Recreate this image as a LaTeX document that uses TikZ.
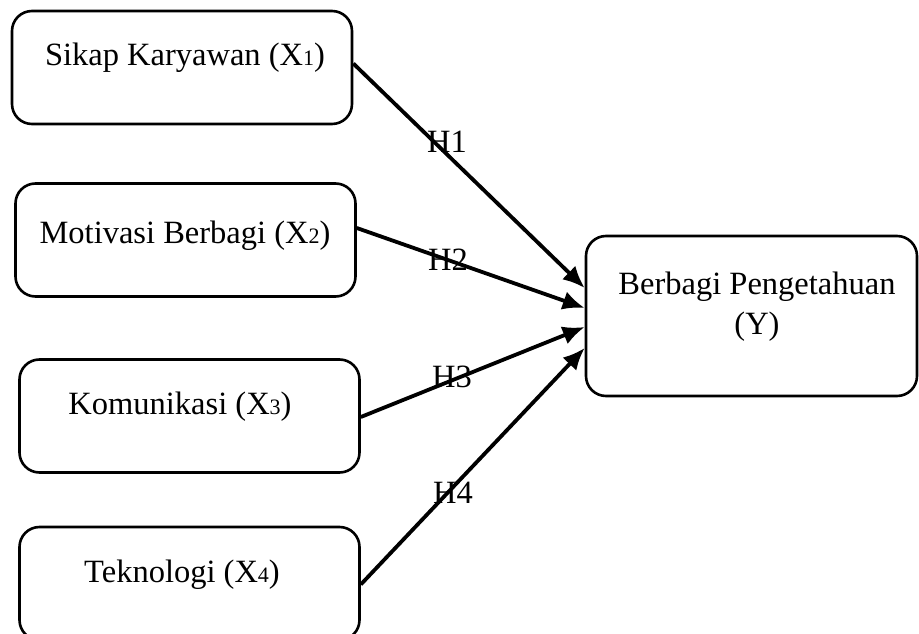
\documentclass[tikz,border=0pt]{standalone}
\usepackage{fontspec}
\setmainfont{Liberation Serif}
\usetikzlibrary{arrows.meta}
\usetikzlibrary{positioning}

\newcommand{\xsub}[1]{{\fontsize{22}{22}\selectfont #1}}

\begin{document}
\begin{tikzpicture}[x=1pt, y=-1pt,
                box/.style={draw, line width=2.6pt, rounded corners=20pt, minimum width=340pt, minimum height=113pt},
                lbl/.style={font=\fontsize{32.5}{40}\selectfont, align=center},
                hyp/.style={line width=3.8pt, -{Latex[length=22pt, width=19pt]}}]
                \useasboundingbox (0,0) rectangle (919,634);
                
                \node[box] (x1) at (182,67.5) {};
                \node[box] (x2) at (185.5,240) {};
                \node[box] (x3) at (189.5,416) {};
                \node[box] (x4) at (189.5,583.5) {};
                \node[box, minimum width=331pt, minimum height=160pt] (y) at (751.5,316) {};
                
                \node[lbl] (t1) at (185,58) {Sikap Karyawan (X\xsub{1})};
                \node[lbl] (t2) at (185,236) {Motivasi Berbagi (X\xsub{2})};
                \node[lbl] (t3) at (180,407) {Komunikasi (X\xsub{3})};
                \node[lbl] (t4) at (182,575) {Teknologi (X\xsub{4})};
                \node[lbl] (ty) at (757,307) {Berbagi Pengetahuan\\(Y)};
                
                \draw[hyp] ([yshift=4]x1.east) -- ([yshift=28]y.west);
                \draw[hyp] ([yshift=12]x2.east) -- ([yshift=8]y.west);
                \draw[hyp] ([yshift=-1]x3.east) -- ([yshift=-11]y.west);
                \draw[hyp] ([yshift=-1]x4.east) -- ([yshift=-32]y.west);
                
                \node[lbl] (h1) at (447,142) {H1};
                \node[lbl] (h2) at (448,260) {H2};
                \node[lbl] (h3) at (452,377) {H3};
                \node[lbl] (h4) at (453,493) {H4};
            \end{tikzpicture}
\end{document}
